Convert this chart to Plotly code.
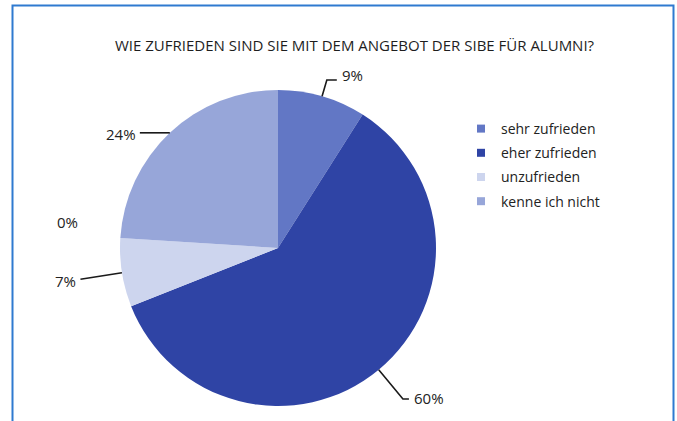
import math
import plotly.graph_objects as go

# ---------------- data ----------------
categories = ["sehr zufrieden", "eher zufrieden", "unzufrieden", "keine Angabe", "kenne ich nicht"]
values = [9, 60, 7, 0, 24]
legend_categories = ["sehr zufrieden", "eher zufrieden", "unzufrieden", "kenne ich nicht"]
title_text = "WIE ZUFRIEDEN SIND SIE MIT DEM ANGEBOT DER SIBE FÜR ALUMNI?"

# ---------------- style ----------------
colors = {
    "sehr zufrieden": "#6277c5",
    "eher zufrieden": "#2f44a5",
    "unzufrieden": "#cdd5ee",
    "keine Angabe": "#e6eaf7",
    "kenne ich nicht": "#97a6d9",
}
W, H = 677, 421
CX, CY, R = 278, 248, 158   # pie centre / radius in pixels
FONT = "Open Sans, sans-serif"

# leader line style per category: (radial extension px, horizontal tail px, label dx, label dy)
leader = {
    "sehr zufrieden": (17, 10, 3, -5),
    "eher zufrieden": (38, 6, 3, -1),
    "unzufrieden": (42, 0, -2, 2),
    "keine Angabe": (None, 0, 0, 0),
    "kenne ich nicht": (0, -30, -2, 1),
}

def px(x):
    return x / W

def py(y):
    return 1 - y / H

fig = go.Figure()
fig.add_trace(go.Pie(
    labels=categories, values=values, sort=False, direction="clockwise", rotation=0,
    marker=dict(colors=[colors[c] for c in categories], line=dict(width=0)),
    textinfo="none", showlegend=False, hoverinfo="label+percent",
    domain=dict(x=[px(CX - R), px(CX + R)], y=[py(CY + R), py(CY - R)]),
))

# legend via marker-only traces
for c in legend_categories:
    fig.add_trace(go.Scatter(
        x=[None], y=[None], mode="markers", name=c, legendgroup=c,
        marker=dict(symbol="square", size=8, color=colors[c], line=dict(width=0)),
        showlegend=True,
    ))

label_font = dict(family=FONT, size=15, color="#222")
shapes = []
annotations = []
total = sum(values)
cum = 0
for c, v in zip(categories, values):
    mid = (cum + v / 2) / total * 2 * math.pi
    cum += v
    ext, tail, ldx, ldy = leader[c]
    sx, sy = math.sin(mid), -math.cos(mid)
    label = f"{round(v / total * 100)}%"
    if ext is None:
        # label without leader line
        lx, ly = CX + sx * (R + 55) + 2, CY + sy * (R + 55) - 13
        annotations.append(dict(x=px(lx), y=py(ly), xref="paper", yref="paper",
                                text=label, showarrow=False, xanchor="center", yanchor="middle",
                                font=label_font))
        continue
    ex, ey = CX + sx * R, CY + sy * R
    bx, by = CX + sx * (R + ext), CY + sy * (R + ext)
    tx, ty = bx + tail, by
    path = f"M {px(ex)},{py(ey)} L {px(bx)},{py(by)} L {px(tx)},{py(ty)}"
    shapes.append(dict(type="path", xref="paper", yref="paper", path=path,
                       line=dict(color="#1a1a1a", width=1.6)))
    right = (tail > 0) or (tail == 0 and sx > 0)
    annotations.append(dict(x=px(tx + ldx), y=py(ty + ldy), xref="paper", yref="paper",
                            text=label, showarrow=False,
                            xanchor="left" if right else "right", yanchor="middle",
                            font=label_font))

# frame
shapes.append(dict(type="rect", xref="paper", yref="paper",
                   x0=px(12.5), x1=px(673.5), y0=py(440), y1=py(5.5),
                   line=dict(color="#2f7ad0", width=2), layer="below"))

annotations.append(dict(x=px(355), y=py(45), xref="paper", yref="paper", text=title_text,
                        showarrow=False, xanchor="center", yanchor="middle",
                        font=dict(family=FONT, size=15, color="#1e1e1e")))

fig.update_layout(
    width=W, height=H, margin=dict(l=0, r=0, t=0, b=0),
    paper_bgcolor="white", plot_bgcolor="white",
    xaxis=dict(visible=False), yaxis=dict(visible=False),
    shapes=shapes, annotations=annotations,
    legend=dict(x=px(461), y=py(113), xanchor="left", yanchor="top",
                font=dict(family=FONT, size=14, color="#222"),
                tracegroupgap=3, bgcolor="rgba(0,0,0,0)", itemclick=False),
)

fig.write_html("out.html", config=dict(displayModeBar=False),
               post_script="document.body.style.margin='0';document.body.style.overflow='hidden';")
